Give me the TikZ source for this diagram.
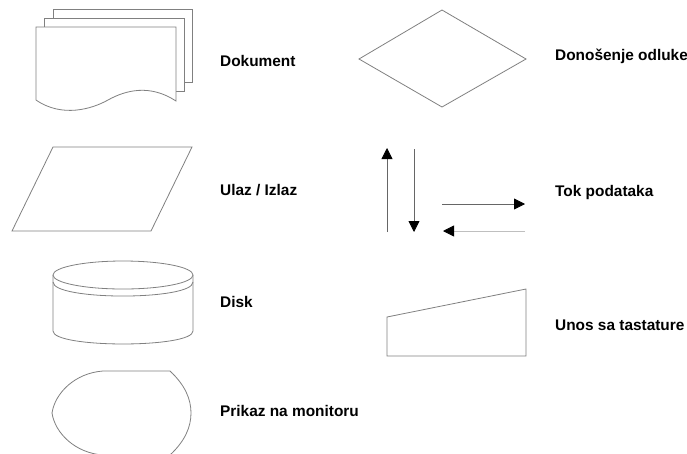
\documentclass[tikz,border=0pt]{standalone}
\usepackage{fontspec}
\setmainfont{Liberation Sans}
\usetikzlibrary{arrows.meta}
\begin{document}
\begin{tikzpicture}[x=1pt,y=-1pt,
  shape line/.style={draw=black!50,line width=0.8pt,fill=white},
  flow/.style={draw=black!60,line width=0.8pt,-{Triangle[length=11pt,width=11pt,black]}},
  legend/.style={anchor=base west,inner sep=0pt,font=\fontsize{15.4}{18}\selectfont\bfseries}]
\useasboundingbox (0,0) rectangle (687,453);
\clip (0,0) rectangle (687,453);

% stacked documents
\draw[shape line] (53,18) -- (53,9) -- (192,9) -- (192,82) -- (184,82);
\draw[shape line] (44,27) -- (44,18) -- (184,18) -- (184,91) -- (176,91);
\draw[shape line] (36,100) -- (36,27) -- (176,27) -- (176,101)
  .. controls (150,84) and (126,90) .. (108,100)
  .. controls (92,109) and (62,118) .. (36,100) -- cycle;
\node[legend] (doc) at (220,66) {Dokument};

% input / output
\draw[shape line] (53,147) -- (192,147) -- (151,231) -- (12,231) -- cycle;
\node[legend] (io) at (220,195) {Ulaz / Izlaz};

% disk
\draw[shape line] (53,275) -- (53,331)
  .. controls (53,348.3) and (193,348.3) .. (193,331) -- (193,275);
\draw[shape line] (123,275) ellipse [x radius=70, y radius=14];
\draw[shape line,fill=none] (53,282) .. controls (53,300.7) and (193,300.7) .. (193,282);
\node[legend] (disk) at (220,307) {Disk};

% display
\draw[shape line] (103,371) -- (170,371)
  .. controls (185,385) and (191,399) .. (191,413)
  .. controls (191,427) and (185,441) .. (170,455) -- (103,455)
  .. controls (75,453) and (55,433) .. (52,413)
  .. controls (55,393) and (75,373) .. (103,371) -- cycle;
\node[legend] (disp) at (220,416) {Prikaz na monitoru};

% decision
\draw[shape line] (442,10) -- (526,59) -- (442,107) -- (359,59) -- cycle;
\node[legend] (dec) at (555,60) {Donošenje odluke};

% data flow
\coordinate (u0) at (387,232); \coordinate (u1) at (387,148);
\coordinate (d0) at (414,149); \coordinate (d1) at (414,232);
\coordinate (r0) at (442,204); \coordinate (r1) at (525,204);
\coordinate (l0) at (525,231); \coordinate (l1) at (443,231);
\draw[flow] (u0) -- (u1);
\draw[flow] (d0) -- (d1);
\draw[flow] (r0) -- (r1);
\draw[flow,draw=black!25] (l0) -- (l1);
\node[legend] (tok) at (555,196) {Tok podataka};

% manual input
\draw[shape line] (387,317) -- (526,289) -- (526,356) -- (387,356) -- cycle;
\node[legend] (key) at (555,330) {Unos sa tastature};
\end{tikzpicture}
\end{document}
